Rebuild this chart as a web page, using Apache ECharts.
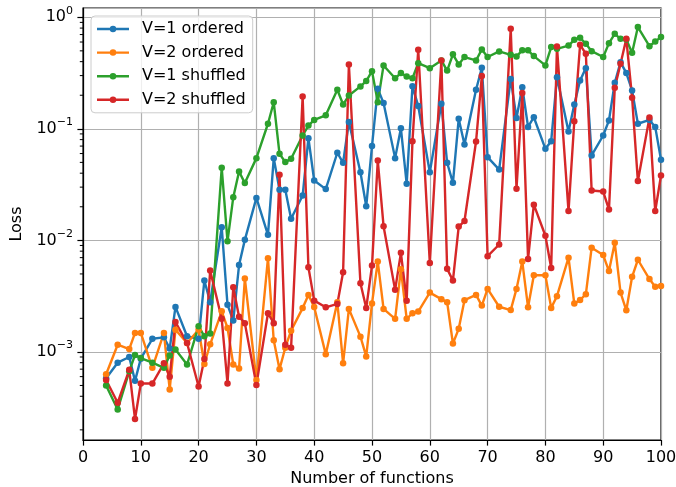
<!DOCTYPE html>
<html>
<head>
<meta charset="utf-8">
<script src="https://cdn.jsdelivr.net/npm/echarts@6/dist/echarts.min.js"></script>
<style>
  html, body { margin: 0; padding: 0; background: #fff; }
  #chart { width: 676px; height: 487px; }
</style>
</head>
<body>
<div id="chart"></div>
<script>
// Number of functions (composite values 4..100)
const numFunctions = [4, 6, 8, 9, 10, 12, 14, 15, 16, 18, 20, 21, 22, 24, 25, 26, 27, 28, 30, 32,
  33, 34, 35, 36, 38, 39, 40, 42, 44, 45, 46, 48, 49, 50, 51, 52, 54, 55, 56, 57,
  58, 60, 62, 63, 64, 65, 66, 68, 69, 70, 72, 74, 75, 76, 77, 78, 80, 81, 82, 84,
  85, 86, 87, 88, 90, 91, 92, 93, 94, 95, 96, 98, 99, 100];

const lossV1Ordered = [5.8e-4, 8.0e-4, 9.0e-4, 5.5e-4, 8.7e-4, 1.31e-3, 1.35e-3, 1.07e-3, 2.53e-3, 1.38e-3,
  1.31e-3, 4.37e-3, 2.79e-3, 0.0131, 2.64e-3, 1.91e-3, 6.0e-3, 0.0101, 0.024, 0.0112,
  0.0546, 0.0284, 0.0284, 0.0156, 0.0252, 0.0825, 0.0344, 0.0288, 0.061, 0.0496,
  0.115, 0.0408, 0.0202, 0.07, 0.229, 0.17, 0.0546, 0.101, 0.0321, 0.241,
  0.16, 0.0408, 0.168, 0.0496, 0.0328, 0.123, 0.0723, 0.224, 0.352, 0.0557,
  0.0431, 0.28, 0.125, 0.236, 0.104, 0.127, 0.0662, 0.0775, 0.29, 0.0946,
  0.165, 0.271, 0.35, 0.0577, 0.0871, 0.119, 0.259, 0.396, 0.316, 0.221,
  0.111, 0.12, 0.104, 0.0527];

const lossV2Ordered = [6.3e-4, 1.16e-3, 1.06e-3, 1.48e-3, 1.48e-3, 7.2e-4, 1.48e-3, 4.6e-4, 1.58e-3, 1.2e-3,
  1.58e-3, 7.8e-4, 1.17e-3, 2.31e-3, 1.64e-3, 7.7e-4, 7.1e-4, 4.55e-3, 5.6e-4, 6.9e-3,
  1.27e-3, 7.0e-4, 1.09e-3, 1.55e-3, 2.47e-3, 3.24e-3, 2.53e-3, 9.5e-4, 2.79e-3, 7.9e-4,
  2.43e-3, 1.37e-3, 9.1e-4, 2.72e-3, 6.45e-3, 2.43e-3, 1.98e-3, 5.5e-3, 1.98e-3, 2.22e-3,
  2.3e-3, 3.4e-3, 2.97e-3, 2.79e-3, 1.19e-3, 1.61e-3, 2.91e-3, 3.24e-3, 2.6e-3, 3.67e-3,
  2.54e-3, 2.37e-3, 3.67e-3, 6.45e-3, 2.51e-3, 4.87e-3, 4.87e-3, 2.48e-3, 3.16e-3, 7.0e-3,
  2.71e-3, 2.92e-3, 3.29e-3, 8.6e-3, 7.38e-3, 5.3e-3, 9.5e-3, 3.4e-3, 2.36e-3, 4.71e-3,
  6.7e-3, 4.5e-3, 3.84e-3, 3.9e-3];

const lossV1Shuffled = [5.0e-4, 3.05e-4, 6.7e-4, 9.4e-4, 8.8e-4, 8.0e-4, 7.2e-4, 9.3e-4, 1.05e-3, 7.7e-4,
  1.7e-3, 1.38e-3, 1.46e-3, 0.0447, 9.8e-3, 0.0244, 0.0414, 0.0326, 0.0546, 0.111,
  0.173, 0.0597, 0.0503, 0.0538, 0.0871, 0.107, 0.12, 0.132, 0.224, 0.165,
  0.199, 0.24, 0.268, 0.329, 0.173, 0.37, 0.284, 0.316, 0.294, 0.284,
  0.388, 0.35, 0.41, 0.333, 0.465, 0.378, 0.44, 0.41, 0.515, 0.44,
  0.494, 0.461, 0.446, 0.505, 0.505, 0.449, 0.37, 0.54, 0.521, 0.558,
  0.628, 0.655, 0.578, 0.497, 0.44, 0.586, 0.711, 0.641, 0.632, 0.481,
  0.817, 0.551, 0.607, 0.664];

const lossV2Shuffled = [5.6e-4, 3.5e-4, 6.9e-4, 2.5e-4, 5.2e-4, 5.2e-4, 7.9e-4, 6.0e-4, 1.85e-3, 1.2e-3,
  4.9e-4, 8.65e-4, 5.36e-3, 1.98e-3, 5.2e-4, 3.8e-3, 2.07e-3, 1.81e-3, 5.06e-4, 2.22e-3,
  1.81e-3, 0.0387, 1.16e-3, 1.09e-3, 0.195, 5.74e-3, 2.88e-3, 2.51e-3, 2.69e-3, 5.18e-3,
  0.377, 4.13e-3, 2.47e-3, 5.94e-3, 0.052, 0.0134, 3.6e-3, 7.73e-3, 2.88e-3, 0.0775,
  0.512, 6.28e-3, 0.41, 5.55e-3, 4.36e-3, 0.0133, 0.0149, 0.0769, 0.297, 7.21e-3,
  9.18e-3, 0.789, 0.029, 0.209, 6.82e-3, 0.0209, 0.011, 5.66e-3, 0.547, 0.0183,
  0.117, 0.566, 0.471, 0.028, 0.0274, 0.0189, 0.233, 0.383, 0.641, 0.19,
  0.034, 0.126, 0.0183, 0.0381];

const seriesNames = ['V=1 ordered', 'V=2 ordered', 'V=1 shuffled', 'V=2 shuffled'];
const seriesColors = ['#1f77b4', '#ff7f0e', '#2ca02c', '#d62728'];
const seriesValues = [lossV1Ordered, lossV2Ordered, lossV1Shuffled, lossV2Shuffled];

const xTicks = { min: 0, max: 100, step: 10 };
const yRange = { min: 1.622e-4, max: 1.211 };

const FONT = 'DejaVu Sans';
// legend handle: a line with a dot in the middle
const LEGEND_ICON = 'path://M0,6.8L32,6.8L32,9.2L0,9.2Z M19.25,8A3.25,3.25,0,1,1,12.75,8A3.25,3.25,0,1,1,19.25,8Z';

const chart = echarts.init(document.getElementById('chart'), null, { renderer: 'canvas' });

function supLabel(v) {
  const lg = Math.log10(v);
  const e = Math.round(lg);
  if (Math.abs(lg - e) > 1e-6) return '';
  const exp = e < 0 ? '\u2212' + (-e) : String(e);
  return '{base|10}{sup|' + exp + '}';
}

const option = {
  animation: false,
  backgroundColor: '#ffffff',
  grid: {
    left: 83, right: 15, top: 8, bottom: 47,
    containLabel: false,
    outerBoundsMode: 'none',
    show: true, borderColor: '#000', borderWidth: 1.2, backgroundColor: 'transparent'
  },
  legend: {
    orient: 'vertical',
    left: 91, top: 16,
    padding: [5, 7, 5, 6],
    itemWidth: 32, itemHeight: 16, itemGap: 7.6,
    icon: LEGEND_ICON,
    backgroundColor: 'rgba(255,255,255,0.8)',
    borderColor: '#cccccc', borderWidth: 1, borderRadius: 4,
    textStyle: { fontFamily: FONT, fontSize: 16, color: '#000', padding: [0, 0, 0, 8] },
    data: seriesNames
  },
  xAxis: {
    type: 'value',
    min: xTicks.min, max: xTicks.max, interval: xTicks.step,
    name: 'Number of functions',
    nameLocation: 'middle', nameGap: 30,
    nameTextStyle: { fontFamily: FONT, fontSize: 16, color: '#000', verticalAlign: 'top' },
    axisLine: { show: true, onZero: false, lineStyle: { color: '#000', width: 1.2 } },
    axisTick: { show: true, inside: false, length: 5.6, lineStyle: { color: '#000', width: 1.2 } },
    axisLabel: { fontFamily: FONT, fontSize: 16, color: '#000', margin: 10 },
    splitLine: { show: true, lineStyle: { color: '#b0b0b0', width: 1.2 } }
  },
  yAxis: {
    type: 'log', logBase: 10,
    min: yRange.min, max: yRange.max,
    name: 'Loss',
    nameLocation: 'middle', nameGap: 58,
    nameTextStyle: { fontFamily: FONT, fontSize: 16, color: '#000' },
    axisLine: { show: true, lineStyle: { color: '#000', width: 1.2 } },
    axisTick: { show: true, inside: false, length: 5.6, lineStyle: { color: '#000', width: 1.2 } },
    axisLabel: {
      showMinLabel: false, showMaxLabel: false,
      margin: 10,
      formatter: supLabel,
      rich: {
        base: { fontFamily: FONT, fontSize: 16, color: '#000', lineHeight: 16 },
        sup: { fontFamily: FONT, fontSize: 11, color: '#000', lineHeight: 11, verticalAlign: 'bottom', padding: [0, 0, 9, 0] }
      }
    },
    splitLine: { show: true, lineStyle: { color: '#b0b0b0', width: 1.2 } }
  },
  series: seriesNames.map((name, k) => ({
    name: name,
    type: 'line',
    data: numFunctions.map((x, i) => [x, seriesValues[k][i]]),
    symbol: 'circle',
    symbolSize: 6.5,
    showSymbol: true,
    color: seriesColors[k],
    lineStyle: { width: 2.4, color: seriesColors[k] },
    itemStyle: { color: seriesColors[k] },
    emphasis: { disabled: true }
  }))
};

chart.setOption(option);

// minor ticks on the log axis at 2..9 x 10^k
const minorLines = [];
const xLeft = chart.convertToPixel({ xAxisIndex: 0 }, 0);
for (let k = -4; k <= 0; k++) {
  for (let m = 2; m <= 9; m++) {
    const v = m * Math.pow(10, k);
    if (v < yRange.min || v > yRange.max) continue;
    const py = chart.convertToPixel({ yAxisIndex: 0 }, v);
    minorLines.push({
      type: 'line',
      shape: { x1: xLeft - 3.2, y1: py, x2: xLeft, y2: py },
      style: { stroke: '#000', lineWidth: 1 },
      silent: true
    });
  }
}
chart.setOption({ graphic: minorLines });
</script>
</body>
</html>
